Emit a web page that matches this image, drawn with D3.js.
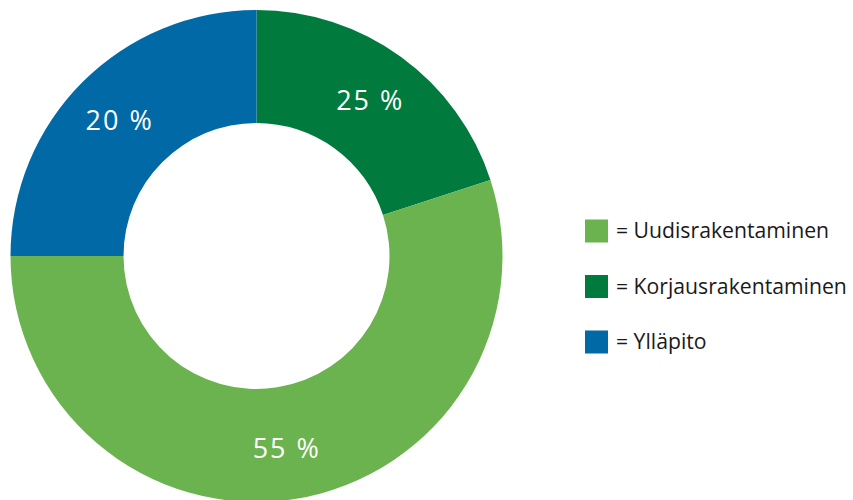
<!DOCTYPE html>
<html>
<head>
<meta charset="utf-8">
<script src="https://cdn.jsdelivr.net/npm/d3@7"></script>
<style>
  body { margin: 0; background: #fff; }
  svg { display: block; }
  text { font-family: "Open Sans", "Noto Sans", sans-serif; }
</style>
</head>
<body>
<div id="chart"></div>
<script>
var svgWidth = 853;
var svgHeight = 500;

// slices in drawing order, clockwise from 12 o'clock
var categories = ["Korjausrakentaminen", "Uudisrakentaminen", "Ylläpito"];
var values = [20, 55, 25];
var labels = ["25 %", "55 %", "20 %"];
var colors = ["#007a3d", "#6ab34e", "#0069a6"];

// legend order
var legendItems = ["Uudisrakentaminen", "Korjausrakentaminen", "Ylläpito"];

var cx = 256.5, cy = 256;
var outerR = 246, innerR = 133;

var svg = d3.select("#chart")
    .append("svg")
    .attr("width", svgWidth)
    .attr("height", svgHeight);

var color = d3.scaleOrdinal().domain(categories).range(colors);

var pie = d3.pie().sort(null).value(d => d.value);
var arc = d3.arc().innerRadius(innerR).outerRadius(outerR);
var labelArc = d3.arc().innerRadius(innerR + 4).outerRadius(outerR + 4);

var data = categories.map((c, i) => ({ name: c, value: values[i], label: labels[i] }));

var chartGroup = svg.append("g")
    .attr("transform", `translate(${cx}, ${cy})`);

chartGroup.selectAll("path")
    .data(pie(data))
    .enter()
    .append("path")
    .attr("d", arc)
    .attr("fill", d => color(d.data.name));

chartGroup.selectAll("text")
    .data(pie(data))
    .enter()
    .append("text")
    .attr("transform", d => `translate(${labelArc.centroid(d)})`)
    .attr("text-anchor", "middle")
    .attr("dy", "0.4em")
    .attr("fill", "#fff")
    .attr("font-size", "27px")
    .attr("letter-spacing", "2px")
    .text(d => d.data.label);

// legend
var legendY = d3.scalePoint()
    .domain(legendItems)
    .range([231, 342]);

var legend = svg.append("g")
    .selectAll("g")
    .data(legendItems)
    .enter()
    .append("g")
    .attr("transform", d => `translate(585, ${legendY(d)})`);

legend.append("rect")
    .attr("x", 0)
    .attr("y", -11.5)
    .attr("width", 23)
    .attr("height", 23)
    .attr("fill", d => color(d));

legend.append("text")
    .attr("x", 31)
    .attr("y", 0)
    .attr("dy", "0.35em")
    .attr("font-size", "21.2px")
    .attr("fill", "#1a1a1a")
    .text(d => "= " + d);
</script>
</body>
</html>
